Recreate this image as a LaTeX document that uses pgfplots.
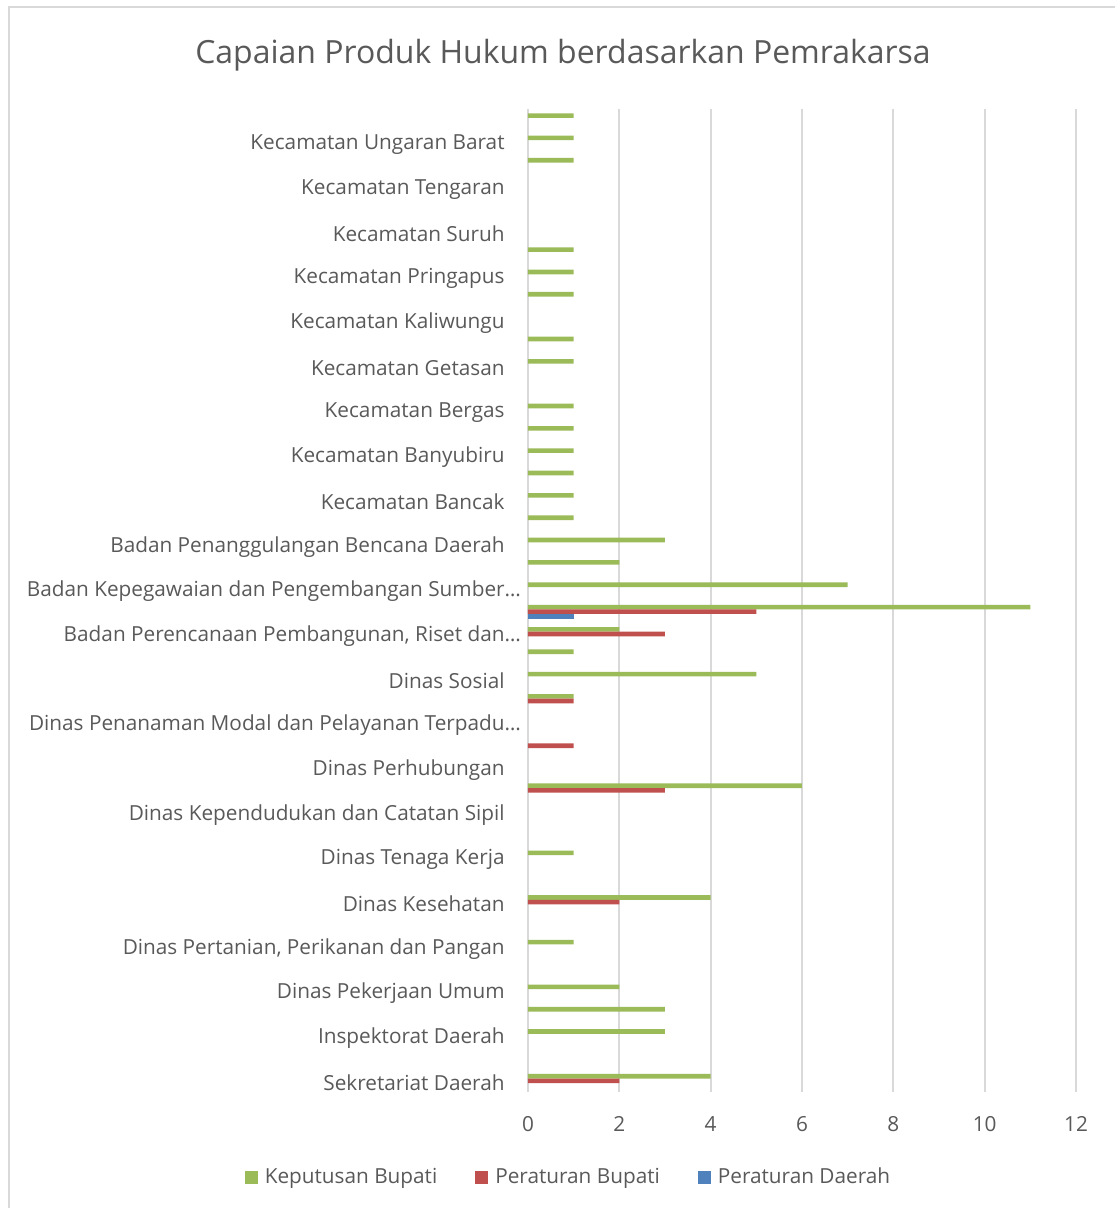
\documentclass[border=0pt]{standalone}
\usepackage{fontspec}
\setmainfont{Open Sans}
\usepackage{pgfplots}
\pgfplotsset{compat=1.18}
\definecolor{kepbup}{HTML}{9BBB59}
\definecolor{perbup}{HTML}{C0504D}
\definecolor{perda}{HTML}{4F81BD}
\definecolor{gridc}{HTML}{D9D9D9}
\definecolor{txt}{HTML}{595959}
\newcommand{\lblfont}{\fontsize{10.38bp}{12bp}\selectfont}
\begin{document}
\begin{tikzpicture}
% 1 px of the reference = 0.5bp, origin at the lower-left corner of the plot area
\useasboundingbox (-264bp,-58bp) rectangle (293.5bp,546bp);
\draw[gridc,line width=1bp] (-259.25bp,-70bp) -- (-259.25bp,542.25bp) -- (300bp,542.25bp);
\begin{axis}[
    at={(0,0)},anchor=south west,
    scale only axis,width=274bp,height=491.5bp,
    xbar,bar width=2.3bp,
    legend image code/.code={\fill[#1,draw=none] (0bp,-3.25bp) rectangle (6.5bp,3.25bp);},
    xmin=0,xmax=12,ymin=0.5,ymax=44.5,
    xtick={0,2,...,12},
    ytick={1,3,...,43},
    yticklabels={Sekretariat Daerah,Inspektorat Daerah,Dinas Pekerjaan Umum,
      {Dinas Pertanian, Perikanan dan Pangan},Dinas Kesehatan,Dinas Tenaga Kerja,
      Dinas Kependudukan dan Catatan Sipil,Dinas Perhubungan,
      Dinas Penanaman Modal dan Pelayanan Terpadu\rlap{…},Dinas Sosial,
      {Badan Perencanaan Pembangunan, Riset dan\rlap{…}},
      Badan Kepegawaian dan Pengembangan Sumber\rlap{…},
      Badan Penanggulangan Bencana Daerah,Kecamatan Bancak,Kecamatan Banyubiru,
      Kecamatan Bergas,Kecamatan Getasan,Kecamatan Kaliwungu,Kecamatan Pringapus,
      Kecamatan Suruh,Kecamatan Tengaran,Kecamatan Ungaran Barat},
    major tick length=0pt,
    xmajorgrids,grid style={gridc,line width=1bp},
    axis x line*=bottom,axis y line*=left,
    x axis line style={draw=none},
    y axis line style={gridc,line width=1bp},
    /pgf/number format/assume math mode=true,
    ticklabel style={font=\lblfont,text=txt,inner sep=0pt},
    xticklabel style={yshift=-12bp},
    yticklabel style={xshift=-11.5bp,yshift=-1bp},
    legend columns=3,
    legend style={draw=none,fill=none,font=\lblfont,text=txt,
      at={(0.072,-0.0865)},anchor=center,inner sep=0pt,
      nodes={inner sep=0pt},
      /tikz/every odd column/.append style={column sep=3.5bp},
      /tikz/every even column/.append style={column sep=19bp}},
]
\addplot[fill=kepbup,draw=none,bar shift=2.3bp] coordinates {
  (4,1) (3,3) (3,4) (2,5) (1,7) (4,9) (1,11) (6,14) (1,18) (5,19) (1,20)
  (2,21) (11,22) (7,23) (2,24) (3,25) (1,26) (1,27) (1,28) (1,29) (1,30)
  (1,31) (1,33) (1,34) (1,36) (1,37) (1,38) (1,42) (1,43) (1,44)};
\addlegendentry{Keputusan Bupati}
\addplot[fill=perbup,draw=none,bar shift=0bp] coordinates {
  (2,1) (2,9) (3,14) (1,16) (1,18) (3,21) (5,22)};
\addlegendentry{Peraturan Bupati}
\addplot[fill=perda,draw=none,bar shift=-2.3bp] coordinates {(1,22)};
\addlegendentry{Peraturan Daerah}
\end{axis}
\node[text=txt,font=\fontsize{15.98bp}{19bp}\selectfont] at (17.5bp,518.5bp) {Capaian Produk Hukum berdasarkan Pemrakarsa};
\end{tikzpicture}
\end{document}
